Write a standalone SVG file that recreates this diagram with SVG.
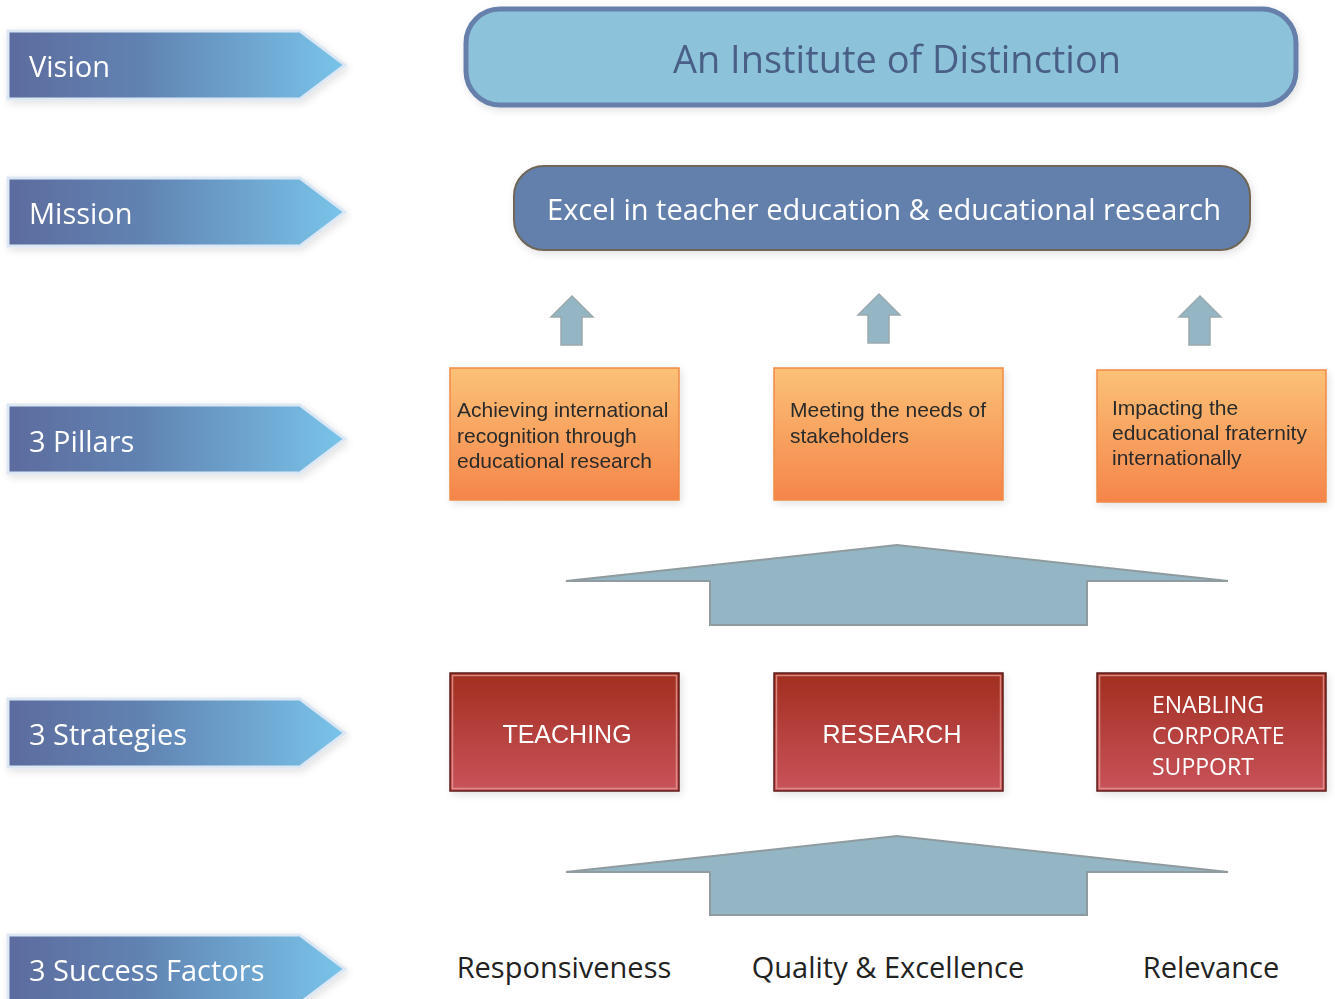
<svg xmlns="http://www.w3.org/2000/svg" width="1335" height="999" viewBox="0 0 1335 999">
<defs>
<linearGradient id="gBlue" x1="0" y1="0" x2="1" y2="0">
<stop offset="0" stop-color="#5c6b9e"/>
<stop offset="0.4" stop-color="#6183b2"/>
<stop offset="1" stop-color="#79c4ea"/>
</linearGradient>
<linearGradient id="gOrange" x1="0" y1="0" x2="0" y2="1">
<stop offset="0" stop-color="#fbc177"/>
<stop offset="1" stop-color="#f5854a"/>
</linearGradient>
<linearGradient id="gRed" x1="0" y1="0" x2="0" y2="1">
<stop offset="0" stop-color="#a12e1f"/>
<stop offset="1" stop-color="#c9535b"/>
</linearGradient>
<filter id="sh" x="-10%" y="-20%" width="120%" height="150%">
<feGaussianBlur in="SourceAlpha" stdDeviation="4"/>
<feOffset dx="2" dy="3" result="b"/>
<feComponentTransfer><feFuncA type="linear" slope="0.12"/></feComponentTransfer>
<feMerge><feMergeNode/><feMergeNode in="SourceGraphic"/></feMerge>
</filter>
<path id="lab" d="M8,0 H300 L345,34 L300,68 H8 Z"/>
</defs>
<style>
.lab{fill:url(#gBlue);stroke:#dce7f4;stroke-width:3}
.labt{font-family:"Open Sans","Noto Sans",sans-serif;font-size:29px;fill:#ffffff}
.small{fill:#94b6c4;stroke:#9aa9ad;stroke-width:1.5}
.big{fill:#94b6c4;stroke:#8f9b9e;stroke-width:2}
.or{fill:url(#gOrange);stroke:#f08a45;stroke-width:1.5}
.ort{font-family:"Liberation Sans",Arial,sans-serif;font-size:21px;fill:#2a2a2a}
.rd{fill:url(#gRed);stroke:#5e1c1a;stroke-width:1.5}
.rdin{fill:none;stroke:#e79a94;stroke-width:1.5;opacity:0.8}
.rdt{font-family:"Liberation Sans",Arial,sans-serif;font-size:25px;fill:#ffffff}
.rdt2{font-family:"Open Sans","Noto Sans",sans-serif;font-size:23px;fill:#ffffff}
.sf{font-family:"Open Sans","Noto Sans",sans-serif;font-size:29px;fill:#222222}
</style>
<rect width="1335" height="999" fill="#ffffff"/>

<g id="label-vision" filter="url(#sh)"><use href="#lab" class="lab" transform="translate(0,31)"/><text class="labt" x="29" y="77">Vision</text></g>
<g id="label-mission" filter="url(#sh)"><use href="#lab" class="lab" transform="translate(0,178)"/><text class="labt" x="29" y="224">Mission</text></g>
<g id="label-pillars" filter="url(#sh)"><use href="#lab" class="lab" transform="translate(0,405)"/><text class="labt" x="29" y="452">3 Pillars</text></g>
<g id="label-strategies" filter="url(#sh)"><use href="#lab" class="lab" transform="translate(0,699)"/><text class="labt" x="29" y="745">3 Strategies</text></g>
<g id="label-factors" filter="url(#sh)"><use href="#lab" class="lab" transform="translate(0,935)"/><text class="labt" x="29" y="981">3 Success Factors</text></g>

<g id="vision" filter="url(#sh)">
<rect x="466" y="9" width="830" height="96" rx="34" fill="#8cc3db" stroke="#6680ab" stroke-width="5"/>
<text x="897" y="73" text-anchor="middle" font-family="Open Sans, Noto Sans, sans-serif" font-size="38" fill="#4a5f86" textLength="448" lengthAdjust="spacingAndGlyphs">An Institute of Distinction</text>
</g>

<g id="mission" filter="url(#sh)">
<rect x="514" y="166" width="736" height="84" rx="30" fill="#6480ac" stroke="#6f6657" stroke-width="2"/>
<text x="884" y="220" text-anchor="middle" font-family="Open Sans, Noto Sans, sans-serif" font-size="29" fill="#ffffff" textLength="674" lengthAdjust="spacingAndGlyphs">Excel in teacher education &amp; educational research</text>
</g>

<g id="connectors">
<path class="small" d="M561,345 V317 H551 L572,296 L593,317 H582 V345 Z"/>
<path class="small" d="M868,343 V315 H858 L879,294 L900,315 H889 V343 Z"/>
<path class="small" d="M1189,345 V317 H1179 L1200,296 L1221,317 H1210 V345 Z"/>
<path class="big" d="M566,581 L897,545 L1228,581 H1087 V625 H710 V581 Z"/>
<path class="big" d="M566,872 L897,836 L1228,872 H1087 V915 H710 V872 Z"/>
</g>

<g id="pillar1" filter="url(#sh)">
<rect class="or" x="450" y="368" width="229" height="132"/>
<text class="ort" x="457" y="417">Achieving international</text>
<text class="ort" x="457" y="443">recognition through</text>
<text class="ort" x="457" y="468">educational research</text>
</g>
<g id="pillar2" filter="url(#sh)">
<rect class="or" x="774" y="368" width="229" height="132"/>
<text class="ort" x="790" y="417">Meeting the needs of</text>
<text class="ort" x="790" y="443">stakeholders</text>
</g>
<g id="pillar3" filter="url(#sh)">
<rect class="or" x="1097" y="370" width="229" height="132"/>
<text class="ort" x="1112" y="415">Impacting the</text>
<text class="ort" x="1112" y="440">educational fraternity</text>
<text class="ort" x="1112" y="465">internationally</text>
</g>

<g id="teaching" filter="url(#sh)">
<rect class="rd" x="450" y="673" width="229" height="118"/>
<rect class="rdin" x="452.5" y="675.5" width="224" height="113"/>
<text class="rdt" x="567" y="743" text-anchor="middle">TEACHING</text>
</g>
<g id="research" filter="url(#sh)">
<rect class="rd" x="774" y="673" width="229" height="118"/>
<rect class="rdin" x="776.5" y="675.5" width="224" height="113"/>
<text class="rdt" x="892" y="743" text-anchor="middle">RESEARCH</text>
</g>
<g id="support" filter="url(#sh)">
<rect class="rd" x="1097" y="673" width="229" height="118"/>
<rect class="rdin" x="1099.5" y="675.5" width="224" height="113"/>
<text class="rdt2" x="1152" y="713">ENABLING</text>
<text class="rdt2" x="1152" y="744">CORPORATE</text>
<text class="rdt2" x="1152" y="775">SUPPORT</text>
</g>

<g id="factor1"><text class="sf" x="564" y="978" text-anchor="middle">Responsiveness</text></g>
<g id="factor2"><text class="sf" x="888" y="978" text-anchor="middle">Quality &amp; Excellence</text></g>
<g id="factor3"><text class="sf" x="1211" y="978" text-anchor="middle">Relevance</text></g>
</svg>
